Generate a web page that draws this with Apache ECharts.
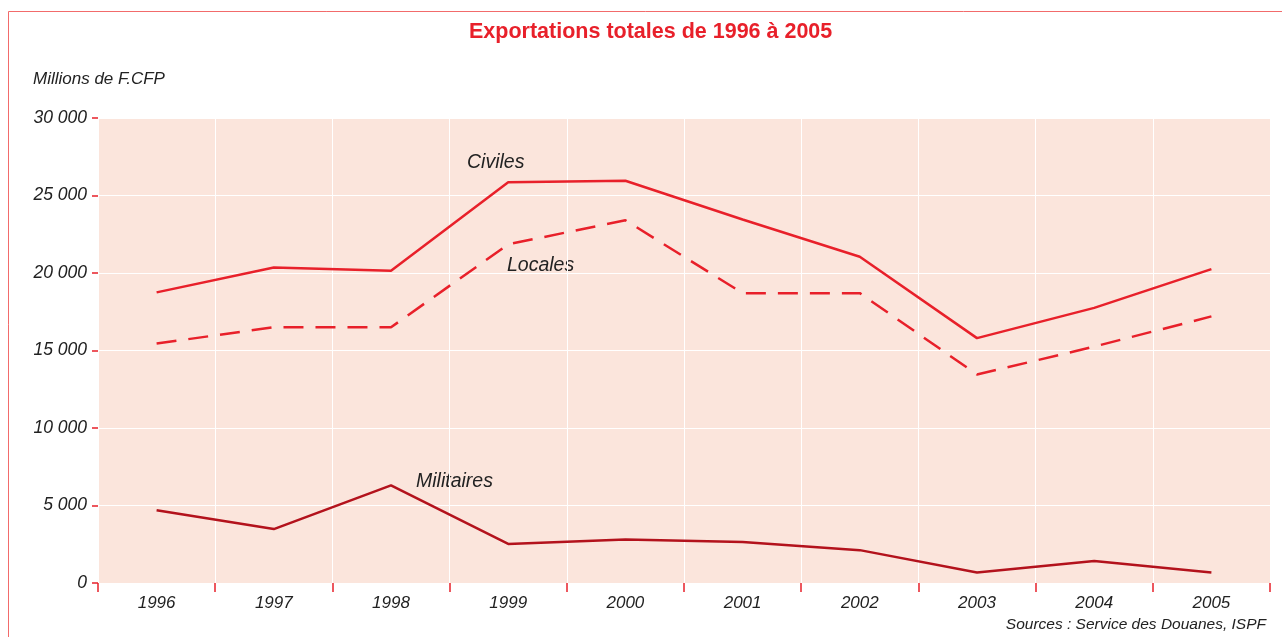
<!DOCTYPE html>
<html>
<head>
<meta charset="utf-8">
<script src="https://cdn.jsdelivr.net/npm/echarts@6/dist/echarts.min.js"></script>
<style>
  html, body { margin: 0; padding: 0; background: #fff; }
  #chart { width: 1282px; height: 637px; }
</style>
</head>
<body>
<div id="chart"></div>
<script>
// données (millions de F.CFP)
var years = ['1996', '1997', '1998', '1999', '2000', '2001', '2002', '2003', '2004', '2005']
var civiles = [18750, 20350, 20150, 25850, 25950, 23450, 21050, 15800, 17750, 20250]
var locales = [15450, 16500, 16500, 21850, 23400, 18700, 18700, 13450, 15250, 17200]
var militaires = [4700, 3480, 6300, 2520, 2800, 2650, 2120, 680, 1420, 680]

var RED = '#e8202a'
var DARK_RED = '#b3121c'
var TXT = '#222'
var FONT = '"Liberation Sans", Arial, sans-serif'

var chart = echarts.init(document.getElementById('chart'))

function fmt(v) {
  return String(v).replace(/\B(?=(\d{3})+(?!\d))/g, ' ')
}

var option = {
  backgroundColor: '#fff',
  animation: false,
  textStyle: { fontFamily: FONT },
  title: {
    text: 'Exportations totales de 1996 à 2005',
    left: 469,
    top: 21,
    padding: 0,
    textStyle: { color: RED, fontSize: 21.5, fontWeight: 'bold', fontFamily: FONT }
  },
  grid: {
    left: 98,
    right: 12,
    top: 118,
    bottom: 54,
    show: true,
    backgroundColor: '#fbe5dc',
    borderWidth: 0
  },
  xAxis: {
    type: 'category',
    data: years,
    boundaryGap: true,
    axisLine: { show: false },
    axisTick: {
      show: true,
      length: 9,
      lineStyle: { color: RED, width: 1.5 }
    },
    axisLabel: {
      color: TXT,
      fontSize: 17,
      fontStyle: 'italic',
      margin: 12
    },
    splitLine: { show: true, lineStyle: { color: '#fff', width: 1 } }
  },
  yAxis: {
    type: 'value',
    min: 0,
    max: 30000,
    interval: 5000,
    axisLine: { show: false },
    axisTick: {
      show: true,
      length: 6,
      lineStyle: { color: RED, width: 1.5 }
    },
    axisLabel: {
      color: TXT,
      fontSize: 17.5,
      fontStyle: 'italic',
      margin: 11,
      formatter: fmt
    },
    splitLine: { show: true, lineStyle: { color: '#fff', width: 1 } }
  },
  series: [
    {
      name: 'Civiles',
      type: 'line',
      data: civiles,
      symbol: 'none',
      lineStyle: { color: RED, width: 2.5 }
    },
    {
      name: 'Locales',
      type: 'line',
      data: locales,
      symbol: 'none',
      lineStyle: { color: RED, width: 2.5, type: [20, 12] }
    },
    {
      name: 'Militaires',
      type: 'line',
      data: militaires,
      symbol: 'none',
      lineStyle: { color: DARK_RED, width: 2.5 }
    }
  ],
  graphic: [
    // cadre
    { type: 'line', shape: { x1: 8.5, y1: 11.5, x2: 1282, y2: 11.5 }, style: { stroke: '#f26b6b', lineWidth: 1 } },
    { type: 'line', shape: { x1: 8.5, y1: 11.5, x2: 8.5, y2: 637 }, style: { stroke: '#f26b6b', lineWidth: 1 } },
    {
      type: 'text', left: 33, top: 71,
      style: { text: 'Millions de F.CFP', fill: TXT, font: 'italic 17px ' + FONT }
    },
    {
      type: 'text', left: 467, top: 153,
      style: { text: 'Civiles', fill: TXT, font: 'italic 19.5px ' + FONT }
    },
    {
      type: 'text', left: 507, top: 256,
      style: { text: 'Locales', fill: TXT, font: 'italic 19.5px ' + FONT }
    },
    {
      type: 'text', left: 416, top: 472,
      style: { text: 'Militaires', fill: TXT, font: 'italic 19.5px ' + FONT }
    },
    {
      type: 'text', right: 16, top: 617,
      style: { text: 'Sources : Service des Douanes, ISPF', fill: TXT, font: 'italic 15.5px ' + FONT }
    }
  ]
}

chart.setOption(option)
</script>
</body>
</html>
